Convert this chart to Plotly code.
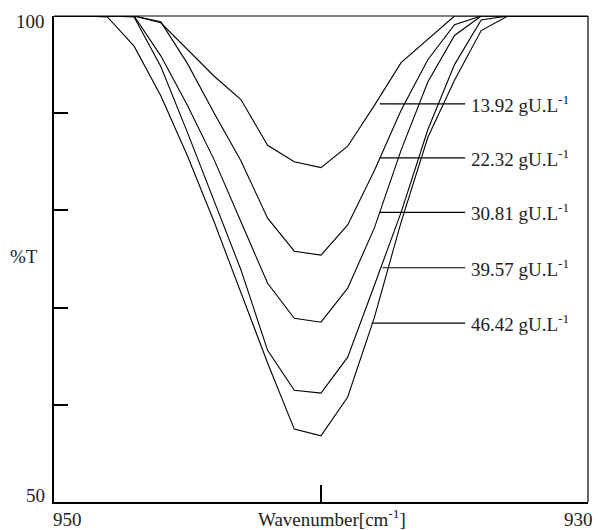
import plotly.graph_objects as go

wavenumbers = [950, 949, 948, 947, 946, 945, 944, 943, 942, 941, 940,
               939, 938, 937, 936, 935, 934, 933, 932, 931, 930]

t_13_92 = [100, 100, 100, 100, 99.3, 96.5, 93.8, 91.4, 86.7, 85.0, 84.4,
           86.6, 90.8, 95.2, 97.6, 100, 100, 100, 100, 100, 100]
t_22_32 = [100, 100, 100, 100, 99.4, 95.1, 90.0, 85.1, 79.2, 75.8, 75.4,
           78.5, 84.1, 90.3, 95.5, 99.1, 100, 100, 100, 100, 100]
t_30_81 = [100, 100, 100, 100, 95.9, 90.8, 85.2, 78.8, 72.5, 68.9, 68.5,
           72.0, 78.2, 86.2, 93.2, 98.0, 100, 100, 100, 100, 100]
t_39_57 = [100, 100, 100, 99.9, 94.8, 88.0, 80.9, 73.9, 65.6, 61.5, 61.2,
           64.9, 72.3, 79.8, 88.3, 95.0, 99.6, 100, 100, 100, 100]
t_46_42 = [100, 100, 99.9, 96.9, 91.8, 85.6, 78.8, 71.5, 64.3, 57.5, 56.8,
           60.8, 69.0, 78.8, 87.5, 93.4, 98.5, 100, 100, 100, 100]

series = [t_13_92, t_22_32, t_30_81, t_39_57, t_46_42]
labels = ["13.92 gU.L<sup>-1</sup>", "22.32 gU.L<sup>-1</sup>", "30.81 gU.L<sup>-1</sup>",
          "39.57 gU.L<sup>-1</sup>", "46.42 gU.L<sup>-1</sup>"]
label_y = [90.95, 85.4, 79.8, 74.1, 68.4]
leader_start = [937.8, 937.8, 937.8, 937.7, 938.1]
leader_end = [934.6, 934.6, 934.6, 934.6, 934.6]

y_tickvals = [60, 70, 80, 90]
x_tickvals = [940]

FONT = "Liberation Serif"
TXT = "#222222"
FS = 19

fig = go.Figure()
for s in series:
    fig.add_trace(go.Scatter(x=wavenumbers, y=s, mode="lines",
                             line=dict(color="black", width=1.1),
                             showlegend=False, hoverinfo="skip"))

for lab, ly, x0, x1 in zip(labels, label_y, leader_start, leader_end):
    fig.add_trace(go.Scatter(x=[x0, x1], y=[ly, ly], mode="lines",
                             line=dict(color="black", width=1.2),
                             showlegend=False, hoverinfo="skip"))
    fig.add_annotation(x=x1, y=ly, text=lab, showarrow=False, xanchor="left",
                       yanchor="middle", xshift=4,
                       font=dict(family=FONT, size=FS, color=TXT))

# frame top and right
fig.add_shape(type="line", xref="paper", yref="paper", x0=0, x1=1, y0=1, y1=1,
              line=dict(color="black", width=1.2))
fig.add_shape(type="line", xref="paper", yref="paper", x0=1, x1=1, y0=0, y1=1,
              line=dict(color="black", width=1.2))

# axis end labels
fig.add_annotation(xref="paper", yref="y", x=0, y=100, text="100", showarrow=False,
                   xanchor="right", yanchor="middle", xshift=-7, yshift=-5,
                   font=dict(family=FONT, size=FS, color=TXT))
fig.add_annotation(xref="paper", yref="y", x=0, y=50, text="50", showarrow=False,
                   xanchor="right", yanchor="middle", xshift=-7, yshift=7,
                   font=dict(family=FONT, size=FS, color=TXT))
fig.add_annotation(xref="paper", yref="paper", x=0, y=0.5, text="%T", showarrow=False,
                   xanchor="right", yanchor="middle", xshift=-14, yshift=3,
                   font=dict(family=FONT, size=FS, color=TXT))
fig.add_annotation(xref="x", yref="paper", x=950, y=0, text="950", showarrow=False,
                   xanchor="left", yanchor="middle", xshift=-3, yshift=-17,
                   font=dict(family=FONT, size=FS, color=TXT))
fig.add_annotation(xref="x", yref="paper", x=930, y=0, text="930", showarrow=False,
                   xanchor="right", yanchor="middle", xshift=7, yshift=-17,
                   font=dict(family=FONT, size=FS, color=TXT))
fig.add_annotation(xref="x", yref="paper", x=939.6, y=0, text="Wavenumber[cm<sup>-1</sup>]",
                   showarrow=False, xanchor="center", yanchor="middle", yshift=-16,
                   font=dict(family=FONT, size=FS, color=TXT))

fig.update_xaxes(range=[950, 930], showgrid=False, zeroline=False,
                 showline=True, linecolor="black", linewidth=2,
                 ticks="inside", tickvals=x_tickvals, ticklen=17, tickwidth=1.5,
                 tickcolor="black", showticklabels=False)
fig.update_yaxes(range=[50, 100], showgrid=False, zeroline=False,
                 showline=True, linecolor="black", linewidth=2,
                 ticks="inside", tickvals=y_tickvals, ticklen=14, tickwidth=2,
                 tickcolor="black", showticklabels=False)

fig.update_layout(width=598, height=530, plot_bgcolor="white", paper_bgcolor="white",
                  margin=dict(l=54, r=10, t=16, b=28), showlegend=False)

fig.write_html("out.html", config={"displayModeBar": False},
               post_script="document.body.style.margin='0';document.body.style.padding='0';")
